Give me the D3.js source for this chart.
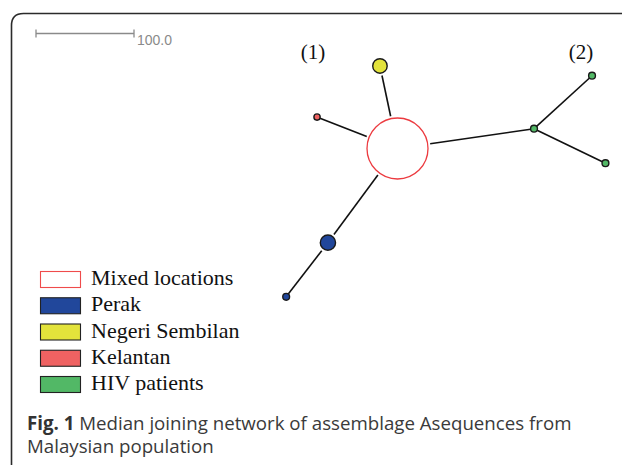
<!DOCTYPE html>
<html>
<head>
<meta charset="utf-8">
<script src="https://cdn.jsdelivr.net/npm/d3@7"></script>
<style>
  body { margin: 0; background: #fff; }
  svg { display: block; }
</style>
</head>
<body>
<div id="chart_area"></div>
<script>
// haplotype nodes: position in network units (mutations), frequency, group
var nodeIds = ["mix", "ns", "kel", "mv", "hiv1", "hiv2", "pk1", "pk2"];
var nodeX = [0, -17.9, -82.1, 139.3, 198.5, 212.2, -71.0, -113.6];
var nodeY = [0, -84.2, -32.1, -20.2, -74.3, 15.0, 96.1, 151.3];
var nodeFreq = [80, 4.5, 0.85, 1, 1, 1, 5, 1];
var nodeGroup = ["Mixed locations", "Negeri Sembilan", "Kelantan", "HIV patients", "HIV patients", "HIV patients", "Perak", "Perak"];

var linkSource = ["mix", "mix", "mix", "mv", "mv", "mix", "pk1"];
var linkTarget = ["ns", "kel", "mv", "hiv1", "hiv2", "pk1", "pk2"];

var groups = ["Mixed locations", "Perak", "Negeri Sembilan", "Kelantan", "HIV patients"];
var groupColors = ["#ffffff", "#21479b", "#e3e33b", "#ef6262", "#52b866"];

var clusterLabels = ["(1)", "(2)"];
var clusterX = [-86.2, 187.2];
var clusterY = [-91.3, -91.3];

var scaleBarValue = 100.0;

var captionBold = "Fig. 1";
var captionLines = ["Median joining network of assemblage Asequences from", "Malaysian population"];

var width = 622, height = 465;

var svg = d3.select("#chart_area")
    .append("svg")
    .attr("width", width)
    .attr("height", height);

// frame with rounded top-left corner
svg.append("path")
    .attr("d", "M11.5,465 V25.5 Q11.5,13.5 23.5,13.5 H622")
    .attr("fill", "none")
    .attr("stroke", "#2b2b2b")
    .attr("stroke-width", 1.6);

// network scale: 100 units = 98px, centre of big node at (397.5,148.5)
var k = 0.98;
var x = d3.scaleLinear().domain([0, 100]).range([397.5, 397.5 + 100 * k]);
var y = d3.scaleLinear().domain([0, 100]).range([148.5, 148.5 + 100 * k]);
var r = d3.scaleSqrt().domain([0, 80]).range([0, 30.5]);
var color = d3.scaleOrdinal().domain(groups).range(groupColors);

var nodes = nodeIds.map(function (id, i) {
    return { id: id, x: nodeX[i], y: nodeY[i], freq: nodeFreq[i], group: nodeGroup[i] };
});
var byId = {};
nodes.forEach(function (d) { byId[d.id] = d; });
var links = linkSource.map(function (s, i) {
    return { source: byId[s], target: byId[linkTarget[i]] };
});

// scale bar
var bar = svg.append("g").attr("class", "scalebar");
var x0 = 36, x1 = x0 + (x(scaleBarValue) - x(0));
bar.append("line").attr("x1", x0).attr("x2", x1).attr("y1", 33.5).attr("y2", 33.5)
    .attr("stroke", "#8a8a8a").attr("stroke-width", 1.3);
[x0, x1].forEach(function (v) {
    bar.append("line").attr("x1", v).attr("x2", v).attr("y1", 29.5).attr("y2", 37.5)
        .attr("stroke", "#8a8a8a").attr("stroke-width", 1.3);
});
bar.append("text").attr("x", x1 + 3).attr("y", 45)
    .attr("font-family", "Liberation Sans, Arial, sans-serif")
    .attr("font-size", 14)
    .attr("fill", "#8a8a8a")
    .text(d3.format(".1f")(scaleBarValue));

// links, trimmed short of node edges
function gap(d) { return r(d.freq) + (d.freq > 2 ? 2.5 : 0); }
svg.append("g").selectAll("line")
    .data(links)
    .enter().append("line")
    .each(function (d) {
        var sx = x(d.source.x), sy = y(d.source.y), tx = x(d.target.x), ty = y(d.target.y);
        var len = Math.hypot(tx - sx, ty - sy), ux = (tx - sx) / len, uy = (ty - sy) / len;
        var a = gap(d.source), b = gap(d.target);
        d3.select(this)
            .attr("x1", sx + ux * a).attr("y1", sy + uy * a)
            .attr("x2", tx - ux * b).attr("y2", ty - uy * b);
    })
    .attr("stroke", "#111")
    .attr("stroke-width", 1.6);

// nodes
svg.append("g").selectAll("circle")
    .data(nodes)
    .enter().append("circle")
    .attr("cx", function (d) { return x(d.x); })
    .attr("cy", function (d) { return y(d.y); })
    .attr("r", function (d) { return r(d.freq); })
    .attr("fill", function (d) { return color(d.group); })
    .attr("stroke", function (d) { return d.group === "Mixed locations" ? "#ec3a3f" : "#1a1a1a"; })
    .attr("stroke-width", function (d) { return d.group === "Mixed locations" ? 1.3 : 1.4; });

// cluster labels
svg.append("g").selectAll("text")
    .data(clusterLabels)
    .enter().append("text")
    .attr("x", function (d, i) { return x(clusterX[i]); })
    .attr("y", function (d, i) { return y(clusterY[i]); })
    .attr("text-anchor", "middle")
    .attr("font-family", "Liberation Serif, Times New Roman, serif")
    .attr("font-size", 21)
    .attr("fill", "#111")
    .text(function (d) { return d; });

// legend
var legendY = d3.scalePoint().domain(groups).range([271, 376]);
var legend = svg.append("g").attr("class", "legend")
    .selectAll("g")
    .data(groups)
    .enter().append("g")
    .attr("transform", function (d) { return "translate(0," + legendY(d) + ")"; });
legend.append("rect")
    .attr("x", 40.5).attr("y", 0.5)
    .attr("width", 40).attr("height", 16)
    .attr("fill", function (d) { return color(d); })
    .attr("stroke", function (d) { return d === "Mixed locations" ? "#ef4b4b" : "#222"; })
    .attr("stroke-width", 1.1);
legend.append("text")
    .attr("x", 91).attr("y", 14)
    .attr("font-family", "Liberation Serif, Times New Roman, serif")
    .attr("font-size", 22)
    .attr("fill", "#111")
    .text(function (d) { return d; });

// caption
var cap = svg.append("g")
    .attr("font-family", "Open Sans, sans-serif")
    .attr("font-size", 18.7)
    .attr("fill", "#3a3a3a");
var t1 = cap.append("text").attr("x", 27).attr("y", 430);
t1.append("tspan").attr("font-weight", "bold").attr("fill", "#333").text(captionBold);
t1.append("tspan").text(" " + captionLines[0]);
cap.append("text").attr("x", 27).attr("y", 453).text(captionLines[1]);
</script>
</body>
</html>
